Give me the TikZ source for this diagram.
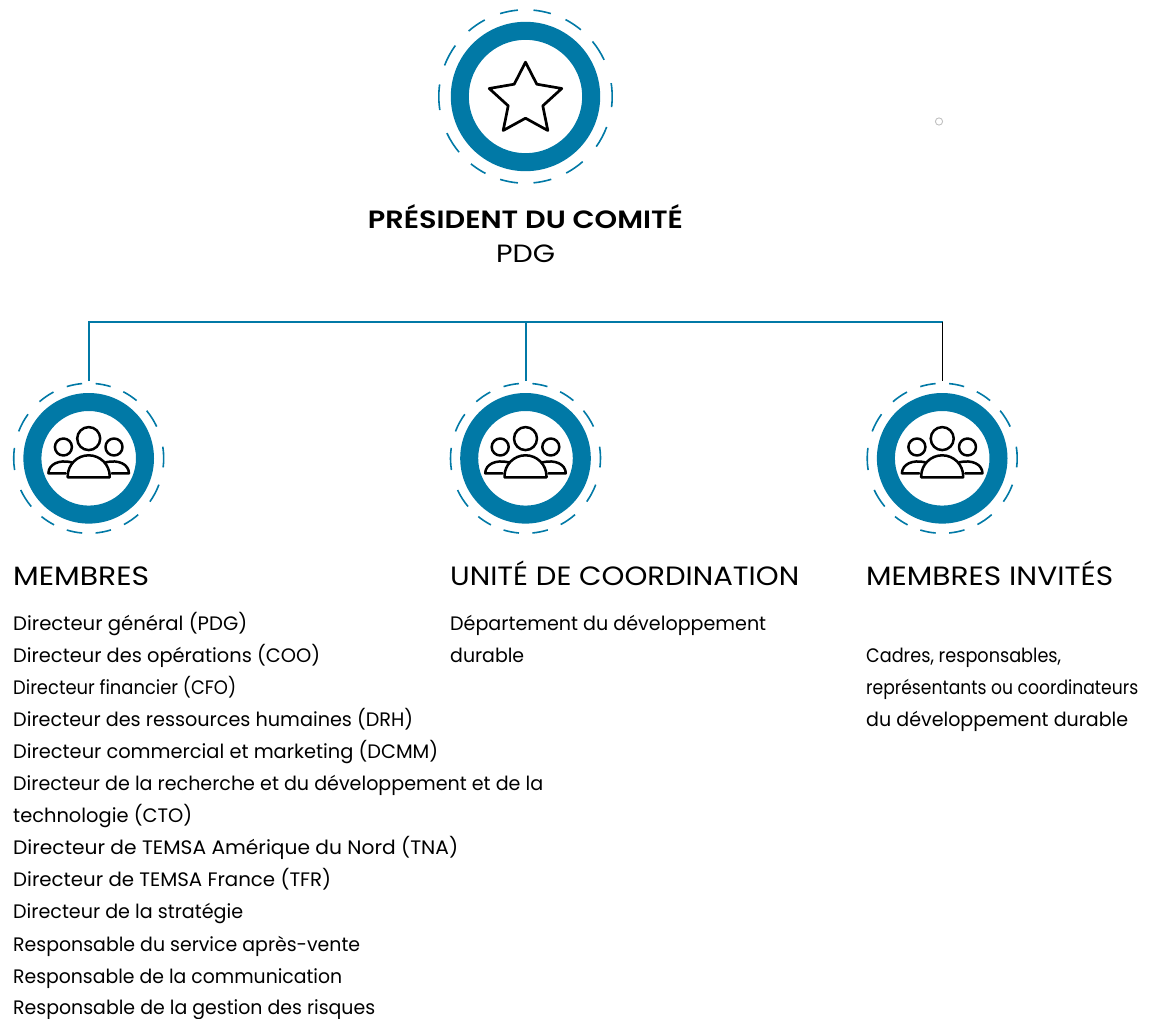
\documentclass[tikz,border=0pt]{standalone}
\usepackage{graphicx}
\usepackage{fontspec}
\setmainfont{Poppins}
\newfontfamily\boldf{Poppins}[UprightFont=* SemiBold]
\definecolor{teal}{HTML}{0179A6}
\definecolor{conn}{HTML}{0179A6}
\newcommand{\fitw}[2]{\resizebox{#1pt}{\height}{#2}}
\newcommand{\ringicon}[4]{%
  \begin{scope}[shift={(#1,#2)},yscale=-1]
    \fill[teal,even odd rule] (0,0) circle[radius=#3] (0,0) circle[radius=#3-18];
    \foreach \a/\b in {84.7/73,62.5/50.3,39.4/25,8.9/-7,-20.6/-35.3,-48.7/-62,-72.7/-84.7,-95/-107,-117.5/-129,-140/-155,-171/-188,159/144,131/118,107/95}
      \draw[teal,line width=1.6pt] (\a:#4) arc[start angle=\a,end angle=\b,radius=#4];
  \end{scope}}
\newcommand{\peopleicon}[2]{%
  \begin{scope}[shift={(#1,#2)},black,line width=2.5pt,line join=round,line cap=round]
    \draw (0,-19.7) circle[radius=11.5];
    \draw (-25.3,-11.3) circle[radius=8.5];
    \draw (25.3,-11.3) circle[radius=8.5];
    \draw (-21,19) -- (21,19) -- (21,18) arc[start angle=0,end angle=-180,radius=21] -- cycle;
    \draw (-17,4) .. controls (-30,1) and (-40,6) .. (-40.3,15) -- (-23,15);
    \draw (17,4) .. controls (30,1) and (40,6) .. (40.3,15) -- (23,15);
  \end{scope}}
\tikzset{
  txt/.style={anchor=base west,inner sep=0pt,font=\fontsize{19.5}{19.5}\selectfont},
  head/.style={anchor=base west,inner sep=0pt,font=\fontsize{26.5}{26.5}\selectfont},
  lnk/.style={conn,line width=1.2pt}
}
\begin{document}
\begin{tikzpicture}[x=1pt,y=-1pt]
\useasboundingbox (0,0) rectangle (1168,1019);
\ringicon{525.5}{96.5}{74.7}{86.7}
\begin{scope}[shift={(525.5,96.5)}]
\draw[black,line width=2.7pt,line join=round]
  (0,-34.3) -- (11.3,-12.3) -- (36.3,-8) -- (17.3,9.3) -- (22.3,34) -- (0,21.7) -- (-22.3,34) -- (-17.3,9.3) -- (-36.3,-8) -- (-11.3,-12.3) -- cycle;
\end{scope}
\node[anchor=base,inner sep=0pt,font=\boldf\fontsize{25}{25}\selectfont] (pres) at (525.5,229) {\fitw{315}{PRÉSIDENT DU COMITÉ}};
\node[anchor=base,inner sep=0pt,font=\fontsize{25}{25}\selectfont] (pdg) at (525.5,262) {\fitw{59}{PDG}};
\draw[gray!50,line width=0.9pt] (939,121.5) circle[radius=3.6];
\coordinate (hub) at (525.9,322);
\coordinate (lft) at (89,322);
\coordinate (rgt) at (942.5,322);
\coordinate (ml) at (89,381);
\coordinate (mc) at (525.9,381);
\coordinate (mr) at (942.5,381);
\draw[lnk] (ml) -- (lft) -- (rgt);
\draw[lnk] (hub) -- (mc);
\draw[black,line width=1pt] (rgt) -- (mr);
\ringicon{88.7}{458.3}{65.3}{75}
\ringicon{525.5}{458.3}{65.3}{75}
\ringicon{942.2}{458.3}{65.3}{75}
\peopleicon{88.7}{458.3}
\peopleicon{525.5}{458.3}
\peopleicon{942.2}{458.3}
\node[head] (h1) at (13,585) {\fitw{136}{MEMBRES}};
\node[head] (h2) at (450,585) {\fitw{349}{UNITÉ DE COORDINATION}};
\node[head] (h3) at (866,585) {\fitw{247}{MEMBRES INVITÉS}};
\foreach \n/\y/\w/\t in {a/630/234/{Directeur général (PDG)},b/662/307/{Directeur des opérations (COO)},c/694/223/{Directeur financier (CFO)},d/726/400/{Directeur des ressources humaines (DRH)},e/758/425/{Directeur commercial et marketing (DCMM)},f/790/530/{Directeur de la recherche et du développement et de la},g/822/179/{technologie (CTO)},h/854/445/{Directeur de TEMSA Amérique du Nord (TNA)},i/886/318/{Directeur de TEMSA France (TFR)},j/918/230/{Directeur de la stratégie},k/951/347/{Responsable du service après-vente},l/983/329/{Responsable de la communication},m/1014/362/{Responsable de la gestion des risques}}
  \node[txt] (m\n) at (13,\y) {\fitw{\w}{\t}};
\node[txt] (u1) at (450,630) {\fitw{316}{Département du développement}};
\node[txt] (u2) at (450,662) {\fitw{74}{durable}};
\node[txt] (i1) at (866,662) {\fitw{195}{Cadres, responsables,}};
\node[txt] (i2) at (866,694) {\fitw{272}{représentants ou coordinateurs}};
\node[txt] (i3) at (866,726) {\fitw{262}{du développement durable}};
\end{tikzpicture}
\end{document}
